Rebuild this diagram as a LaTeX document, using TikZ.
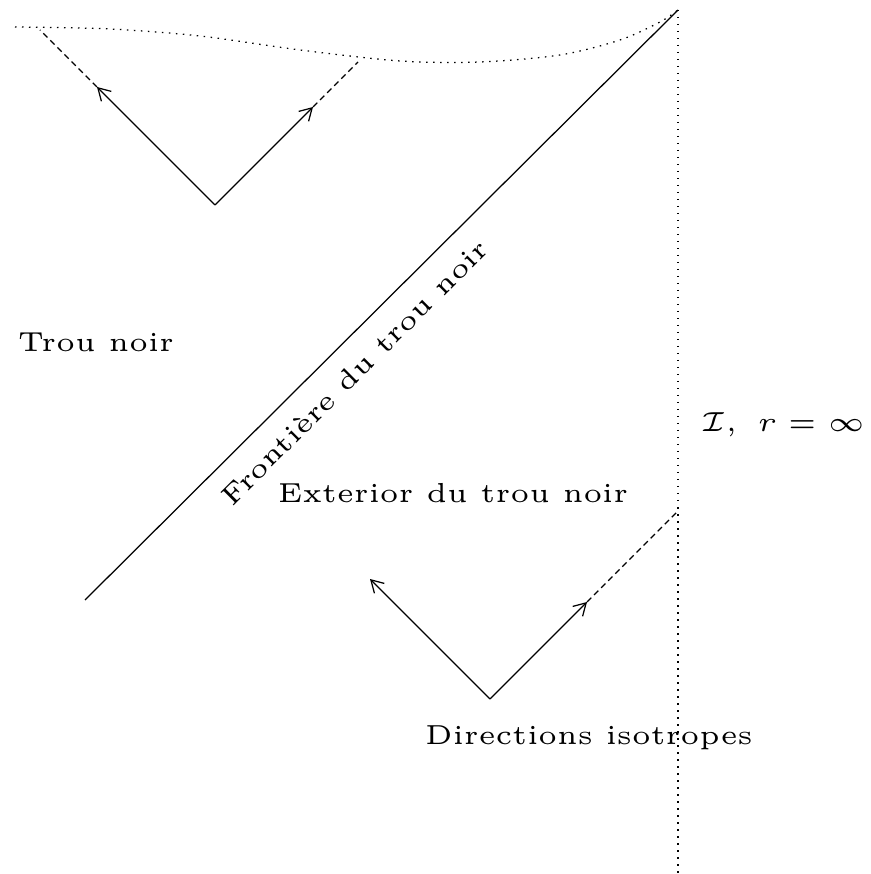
\documentclass[tikz,border=0pt]{standalone}
\usepackage{amsmath, amssymb}
\usetikzlibrary{arrows.meta}

\begin{document}
\begin{tikzpicture}[x=0.2pt, y=-0.2pt, line width=0.25pt, font=\tiny,
    every node/.style={scale=1.1},
    pointille/.style={dash pattern=on 0.3pt off 1.1pt},
    tirets/.style={dash pattern=on 1.2pt off 0.8pt},
    fleche/.style={-{Straight Barb[length=2.4pt,width=2.8pt]}}]
\useasboundingbox (0,0) rectangle (870,874);
% bords du diagramme
\coordinate (i0) at (678,10);
\coordinate (ibas) at (678,874);
\coordinate (h0) at (85,600);
\draw[pointille] (i0) -- (ibas);
\draw (h0) -- (i0);
\draw[pointille] plot[smooth] coordinates {(15,27) (110,29) (200,36) (300,50) (400,61)
    (480,62) (560,55) (620,40) (660,22) (678,10)};
% cone dans le trou noir
\coordinate (c1) at (215,205);
\coordinate (c1g) at (97,87);
\coordinate (c1d) at (313,107);
\draw[fleche] (c1) -- (c1g);
\draw[fleche] (c1) -- (c1d);
\draw[tirets] (c1g) -- (40,30);
\draw[tirets] (c1d) -- (358,62);
% cone a l'exterieur
\coordinate (c2) at (490,699);
\coordinate (c2g) at (370,579);
\coordinate (c2d) at (587,602);
\draw[fleche] (c2) -- (c2g);
\draw[fleche] (c2) -- (c2d);
\draw[tirets] (c2d) -- (677,512);
% textes
\node at(96,342)(tn){Trou noir};
\node at(453,493)(ext){Exterior du trou noir};
\node at(589,738)(dir){Directions isotropes};
\node at(783,425)(scri){$\mathcal{I},\ r=\infty$};
\path (h0) -- (i0) node[pos=0.42, sloped, below](front){Frontière du trou noir};
\end{tikzpicture}
\end{document}
